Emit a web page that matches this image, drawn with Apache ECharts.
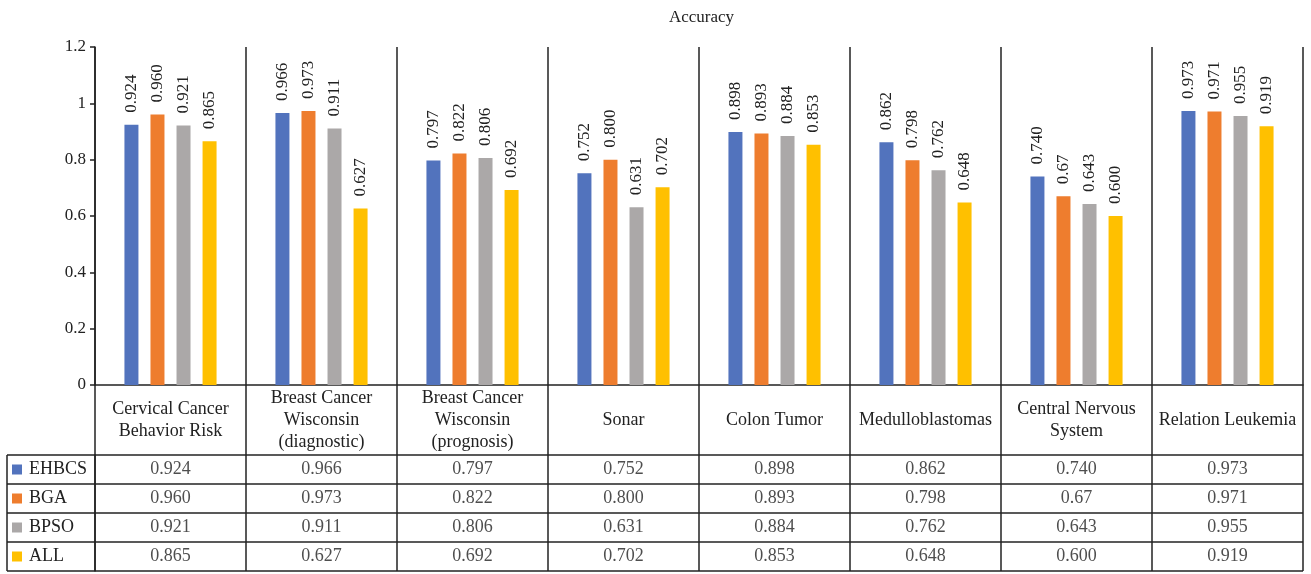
<!DOCTYPE html>
<html>
<head>
<meta charset="utf-8">
<script src="https://cdn.jsdelivr.net/npm/echarts@6/dist/echarts.min.js"></script>
<style>
html,body{margin:0;padding:0;background:#fff;}
#chart{width:1311px;height:574px;}
</style>
</head>
<body>
<div id="chart"></div>
<script>
const titleText = 'Accuracy';
const categories = ['Cervical Cancer\nBehavior Risk', 'Breast Cancer\nWisconsin\n(diagnostic)', 'Breast Cancer\nWisconsin\n(prognosis)', 'Sonar', 'Colon Tumor', 'Medulloblastomas', 'Central Nervous\nSystem', 'Relation Leukemia'];
const seriesNames = ['EHBCS', 'BGA', 'BPSO', 'ALL'];
const EHBCS = ['0.924', '0.966', '0.797', '0.752', '0.898', '0.862', '0.740', '0.973'];
const BGA   = ['0.960', '0.973', '0.822', '0.800', '0.893', '0.798', '0.67',  '0.971'];
const BPSO  = ['0.921', '0.911', '0.806', '0.631', '0.884', '0.762', '0.643', '0.955'];
const ALL   = ['0.865', '0.627', '0.692', '0.702', '0.853', '0.648', '0.600', '0.919'];
const yTicks = {min: 0, max: 1.2, interval: 0.2};

const seriesValues = [EHBCS, BGA, BPSO, ALL];
const colors = ['#5273BD', '#EE7D2E', '#ABA8A8', '#FFC000'];
const FONT = 'Liberation Serif';
const LINE = '#222';
const LW = 1.5;

const richLegend = {t: {fontSize: 18, fontFamily: FONT, color: '#222', verticalAlign: 'middle'}, g: {width: 7}};
colors.forEach((c, i) => { richLegend['s' + i] = {width: 10, height: 10, backgroundColor: c, verticalAlign: 'middle'}; });

const barSeries = seriesNames.map((name, si) => ({
  name: name,
  type: 'bar',
  xAxisIndex: 0,
  yAxisIndex: 0,
  barWidth: 14,
  barGap: '86%',
  itemStyle: {color: colors[si]},
  data: seriesValues[si].map(Number),
  label: {
    show: true,
    position: 'top',
    rotate: 90,
    align: 'left',
    verticalAlign: 'middle',
    distance: 12,
    fontSize: 17,
    fontFamily: FONT,
    color: '#222',
    formatter: p => seriesValues[si][p.dataIndex]
  }
}));

const cellData = [];
seriesValues.forEach((arr, si) => arr.forEach((v, ci) => cellData.push({value: [ci, si], text: v})));

const option = {
  animation: false,
  backgroundColor: '#fff',
  title: {
    text: titleText,
    left: 664,
    top: 4,
    textStyle: {fontSize: 17, fontWeight: 'normal', fontFamily: FONT, color: '#222'}
  },
  grid: [
    {left: 95, right: 8, top: 47, height: 338},
    {left: 95, right: 8, top: 385, height: 70},
    {left: 95, right: 8, top: 455, height: 116}
  ],
  xAxis: [
    {
      type: 'category', gridIndex: 0, data: categories,
      axisLine: {show: true, lineStyle: {color: LINE, width: LW}},
      axisTick: {show: false},
      splitLine: {show: true, interval: 0, lineStyle: {color: LINE, width: LW}},
      axisLabel: {interval: 0, margin: 35, verticalAlign: 'middle', fontSize: 18, lineHeight: 22, fontFamily: FONT, color: '#222'}
    },
    {
      type: 'category', gridIndex: 1, data: categories,
      axisLine: {show: false}, axisTick: {show: false}, axisLabel: {show: false},
      splitLine: {show: true, interval: 0, lineStyle: {color: LINE, width: LW}}
    },
    {
      type: 'category', gridIndex: 2, data: categories,
      axisLine: {show: false}, axisTick: {show: false}, axisLabel: {show: false},
      splitLine: {show: true, interval: 0, lineStyle: {color: LINE, width: LW}}
    }
  ],
  yAxis: [
    {
      type: 'value', gridIndex: 0, min: yTicks.min, max: yTicks.max, interval: yTicks.interval,
      axisLine: {show: true, lineStyle: {color: LINE, width: LW}},
      axisTick: {show: true, length: 5, lineStyle: {color: LINE, width: LW}},
      splitLine: {show: false},
      axisLabel: {fontSize: 17, fontFamily: FONT, color: '#222', margin: 9}
    },
    {
      type: 'value', gridIndex: 1, show: false
    },
    {
      type: 'category', gridIndex: 2, data: seriesNames, inverse: true,
      axisLine: {show: true, lineStyle: {color: LINE, width: LW}},
      axisTick: {show: true, interval: 0, length: 88, lineStyle: {color: LINE, width: LW}},
      splitLine: {show: true, interval: 0, lineStyle: {color: LINE, width: LW}},
      axisLabel: {
        interval: 0, margin: 83, align: 'left',
        formatter: (v, i) => '{s' + i + '|}{g|}{t|' + v + '}',
        rich: richLegend
      }
    }
  ],
  graphic: [
    {type: 'line', shape: {x1: 7, y1: 455, x2: 7, y2: 571}, style: {stroke: LINE, lineWidth: LW}}
  ],
  series: barSeries.concat([{
    type: 'scatter',
    xAxisIndex: 2,
    yAxisIndex: 2,
    symbolSize: 2,
    itemStyle: {color: 'rgba(0,0,0,0)'},
    data: cellData,
    label: {
      show: true, position: 'inside',
      fontSize: 18, fontFamily: FONT, color: '#222',
      formatter: p => p.data.text
    },
    silent: true
  }])
};

const chart = echarts.init(document.getElementById('chart'), null, {renderer: 'canvas'});
chart.setOption(option);
</script>
</body>
</html>
